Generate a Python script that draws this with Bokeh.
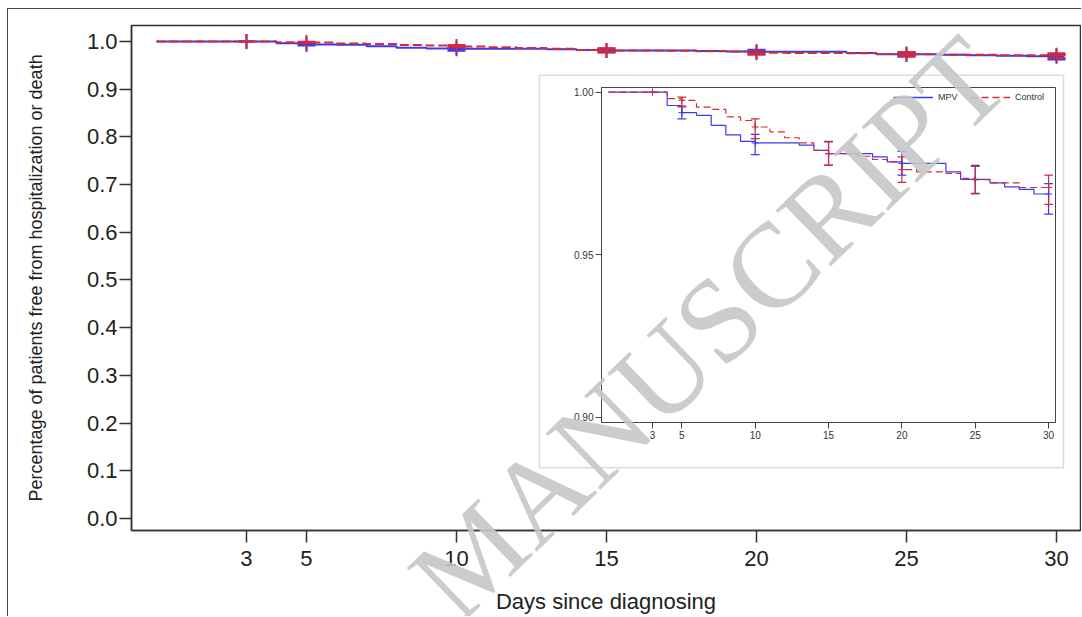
from bokeh.plotting import figure
from bokeh.models import FixedTicker, Range1d, BoxAnnotation, Legend, LegendItem, PrintfTickFormatter
from bokeh.layouts import column
from bokeh.core.properties import value
from bokeh.embed import file_html
from bokeh.resources import INLINE

# ---------------- data ----------------
mpv_days = [0, 4, 5, 6, 7, 8, 9, 10, 13, 14, 15, 18, 19, 20, 23, 24, 26, 27, 28, 29, 30]
mpv_surv = [1.0, 0.9959, 0.9937, 0.9929, 0.9898, 0.9869, 0.9849, 0.9844, 0.9837, 0.9821,
            0.9811, 0.9801, 0.9786, 0.9781, 0.9755, 0.9732, 0.9721, 0.9709, 0.9701, 0.9687, 0.9687]
ctrl_days = [0, 4, 5, 6, 7, 8, 9, 10, 11, 12, 13, 14, 15, 17, 18, 19, 20, 21, 23, 24, 25, 26, 28, 30]
ctrl_surv = [1.0, 0.9980, 0.9975, 0.9954, 0.9947, 0.9924, 0.9913, 0.9893, 0.9878, 0.9860,
             0.9844, 0.9821, 0.9811, 0.9803, 0.9793, 0.9786, 0.9762, 0.9755, 0.9750, 0.9735,
             0.9731, 0.9721, 0.9707, 0.9707]
ci_days = [5, 10, 15, 20, 25, 30]
mpv_lower = [0.9918, 0.9808, 0.9776, 0.9745, 0.9689, 0.9625]
mpv_upper = [0.9957, 0.9870, 0.9847, 0.9818, 0.9775, 0.9719]
ctrl_lower = [0.9955, 0.9857, 0.9775, 0.9723, 0.9687, 0.9655]
ctrl_upper = [0.9985, 0.9918, 0.9849, 0.9801, 0.9772, 0.9745]
censor_days = [3, 5, 10, 15, 20, 25, 30]

main_x_ticks = [3, 5, 10, 15, 20, 25, 30]
main_y_ticks = [0.0, 0.1, 0.2, 0.3, 0.4, 0.5, 0.6, 0.7, 0.8, 0.9, 1.0]
inset_y_ticks = [0.90, 0.95, 1.00]
series_names = ["MPV", "Control"]
x_title = "Days since diagnosing"
y_title = "Percentage of patients free from hospitalization or death"
watermark = "MANUSCRIPT"

BLUE = "#3a3af0"
RED = "#d42a3a"
FONT = "Liberation Sans"

W, H = 1073, 607  # canvas size of the main figure and the watermark overlay


def surv_at(days, surv, t):
    r = surv[0]
    for d, s in zip(days, surv):
        if d <= t:
            r = s
    return r


mpv_cens = [surv_at(mpv_days, mpv_surv, t) for t in censor_days]
ctrl_cens = [surv_at(ctrl_days, ctrl_surv, t) for t in censor_days]


def draw_curves(fig, lw, dash, cap_half, cap_lw, mark_size, mark_lw):
    fig.step(mpv_days, mpv_surv, mode="after", line_color=BLUE, line_width=lw)
    fig.step(ctrl_days, ctrl_surv, mode="after", line_color=RED, line_width=lw, line_dash=dash)
    for lo, hi, col in ((mpv_lower, mpv_upper, BLUE), (ctrl_lower, ctrl_upper, RED)):
        fig.segment(x0=ci_days, y0=lo, x1=ci_days, y1=hi, line_color=col, line_width=cap_lw)
        for ys in (lo, hi):
            fig.segment(x0=[d - cap_half for d in ci_days], y0=ys,
                        x1=[d + cap_half for d in ci_days], y1=ys,
                        line_color=col, line_width=cap_lw)
    fig.scatter(censor_days, mpv_cens, marker="cross", size=mark_size, line_color=BLUE, line_width=mark_lw)
    fig.scatter(censor_days, ctrl_cens, marker="cross", size=mark_size, line_color=RED, line_width=mark_lw)


# ---------------- main figure ----------------
p = figure(width=W, height=H, x_range=Range1d(-0.833, 30.8), y_range=Range1d(-0.025, 1.0333),
           output_backend="svg", toolbar_location=None,
           min_border_left=123, min_border_right=1, min_border_top=16, min_border_bottom=83)
p.background_fill_color = None
p.border_fill_color = None
p.xgrid.visible = False
p.ygrid.visible = False
p.outline_line_color = "#333333"
p.outline_line_width = 1.5

p.xaxis.ticker = FixedTicker(ticks=main_x_ticks)
p.yaxis.ticker = FixedTicker(ticks=main_y_ticks)
p.yaxis.formatter = PrintfTickFormatter(format="%.1f")
for ax in (p.xaxis[0], p.yaxis[0]):
    ax.major_label_text_font = FONT
    ax.major_label_text_font_size = "22px"
    ax.major_label_text_color = "#222222"
    ax.major_tick_out = 12
    ax.major_tick_in = 0
    ax.minor_tick_line_color = None
    ax.axis_line_color = "#333333"
    ax.axis_line_width = 1.5
    ax.major_tick_line_width = 1.5
    ax.major_tick_line_color = "#333333"
    ax.axis_label_text_font = FONT
    ax.axis_label_text_font_style = "normal"
    ax.axis_label_text_color = "#222222"
p.xaxis.axis_label = x_title
p.xaxis.axis_label_text_font_size = "22px"
p.xaxis.major_label_standoff = 8
p.xaxis.axis_label_standoff = 20
p.yaxis.axis_label = y_title
p.yaxis.axis_label_text_font_size = "18px"
p.yaxis.major_label_standoff = 2
p.yaxis.axis_label_standoff = 38

draw_curves(p, 2, "9 4", 0.3, 2.5, 15, 2)

inset_box = BoxAnnotation(left=12.767, right=30.233, top=0.9292, bottom=0.10625,
                          fill_alpha=0, line_color="#8a8a8a", line_width=1.5)
p.add_layout(inset_box)

# ---------------- inset figure ----------------
q = figure(width=524, height=395, x_range=Range1d(-0.477, 30.47), y_range=Range1d(0.89846, 1.00144),
           output_backend="svg", toolbar_location=None,
           min_border_left=62, min_border_right=8, min_border_top=12, min_border_bottom=48)
q.xgrid.visible = False
q.ygrid.visible = False
q.outline_line_color = "#444444"
q.outline_line_width = 1
q.xaxis.ticker = FixedTicker(ticks=main_x_ticks)
q.yaxis.ticker = FixedTicker(ticks=inset_y_ticks)
q.yaxis.formatter = PrintfTickFormatter(format="%.2f")
for ax in (q.xaxis[0], q.yaxis[0]):
    ax.major_label_text_font = FONT
    ax.major_label_text_font_size = "10px"
    ax.major_label_text_color = "#333333"
    ax.major_tick_out = 6
    ax.major_tick_in = 0
    ax.minor_tick_line_color = None
    ax.axis_line_color = "#444444"
    ax.major_tick_line_color = "#444444"
    ax.major_label_standoff = 2

draw_curves(q, 1.2, "7 4", 0.3, 1.2, 7, 1)

# legend proxies: one NaN row each, so only their line style shows in the legend
nan = float("nan")
leg_mpv = q.line(x=[nan], y=[nan], line_color=BLUE, line_width=1.6)
leg_ctrl = q.line(x=[nan], y=[nan], line_color=RED, line_width=1.6, line_dash="7 4")

# two one-item legends placed side by side at the top right of the inset frame
for item_name, rend, loc in ((series_names[0], leg_mpv, (290, 317)), (series_names[1], leg_ctrl, (367, 317))):
    lg = Legend(items=[LegendItem(label=item_name, renderers=[rend])], location=loc,
                orientation="horizontal")
    lg.background_fill_alpha = 0
    lg.border_line_alpha = 0
    lg.label_text_font = FONT
    lg.label_text_font_size = "9px"
    lg.label_text_color = "#333333"
    lg.glyph_width = 40
    lg.glyph_height = 12
    lg.label_standoff = 5
    lg.padding = 2
    lg.margin = 0
    lg.label_height = 12
    q.add_layout(lg)

# ---------------- watermark overlay (frame = whole canvas) ----------------
w = figure(width=W, height=H, x_range=Range1d(0, W), y_range=Range1d(H, 0),
           output_backend="svg", toolbar_location=None,
           x_axis_location=None, y_axis_location=None,
           min_border_left=0, min_border_right=0, min_border_top=0, min_border_bottom=0)
w.background_fill_color = None
w.border_fill_color = None
w.outline_line_color = None
w.xgrid.visible = False
w.ygrid.visible = False
w.text(x=[700], y=[319], text=[watermark], angle=0.77,
       text_font=value("Liberation Serif"), text_font_size="120px",
       text_color="#c6c6c6", text_alpha=0.9, text_align="center", text_baseline="middle")

for fig in (p, q, w):
    try:
        fig.frame_align = False
    except Exception:
        pass

q.margin = (66, 0, 0, 531)
p.margin = (-461, 0, 0, 0)
w.margin = (-H, 0, 0, 0)

layout = column(q, p, w, margin=(8, 0, 0, 7),
                styles={"border-left": "1px solid #444", "border-top": "1px solid #444"})

open("out.html", "w").write(file_html(layout, INLINE))
